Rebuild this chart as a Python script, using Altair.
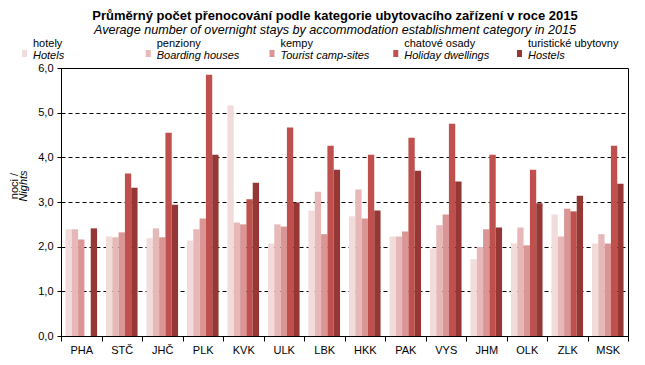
import altair as alt
import pandas as pd

regions = ["PHA", "STČ", "JHČ", "PLK", "KVK", "ULK", "LBK", "HKK", "PAK", "VYS", "JHM", "OLK", "ZLK", "MSK"]
cat_cz = ["hotely", "penziony", "kempy", "chatové osady", "turistické ubytovny"]
cat_en = ["Hotels", "Boarding houses", "Tourist camp-sites", "Holiday dwellings", "Hostels"]
colors = ["#F2DCDB", "#E6B9B8", "#D99694", "#C0504D", "#953735"]

hotely = [2.39, 2.23, 2.19, 2.14, 5.16, 2.07, 2.81, 2.68, 2.23, 1.96, 1.72, 2.07, 2.72, 2.07]
penziony = [2.39, 2.21, 2.41, 2.39, 2.54, 2.50, 3.23, 3.28, 2.23, 2.48, 1.99, 2.43, 2.23, 2.28]
kempy = [2.16, 2.32, 2.21, 2.63, 2.50, 2.45, 2.28, 2.63, 2.34, 2.72, 2.39, 2.03, 2.85, 2.07]
chatove = [None, 3.64, 4.55, 5.85, 3.06, 4.67, 4.26, 4.06, 4.44, 4.75, 4.06, 3.72, 2.79, 4.26]
turist = [2.41, 3.32, 2.94, 4.06, 3.43, 2.99, 3.72, 2.81, 3.70, 3.46, 2.43, 2.97, 3.14, 3.41]

series = [hotely, penziony, kempy, chatove, turist]
rows = []
for cat, vals in zip(cat_cz, series):
    for r, v in zip(regions, vals):
        if v is not None:
            rows.append({"region": r, "cat": cat, "value": v})
df = pd.DataFrame(rows)

W, H = 567, 268
FONT = "Liberation Sans"

bars = alt.Chart(df).mark_bar().encode(
    x=alt.X("region:N", sort=regions,
            scale=alt.Scale(domain=regions, paddingInner=0, paddingOuter=0),
            axis=alt.Axis(title=None, labelAngle=0, tickBand="extent", tickSize=5,
                          labelPadding=3, labelFontSize=11, labelColor="black",
                          domainColor="black", tickColor="black", grid=False)),
    xOffset=alt.XOffset("cat:N", sort=cat_cz,
                        scale=alt.Scale(domain=cat_cz, paddingOuter=0.705, paddingInner=0)),
    y=alt.Y("value:Q", scale=alt.Scale(domain=[0, 6], nice=False),
            axis=alt.Axis(title=None, values=[0, 1, 2, 3, 4, 5, 6], format=".1f",
                          labelExpr="replace(datum.label, '.', ',')",
                          grid=True, gridColor="black", gridDash=[4, 3], gridOpacity=1,
                          tickSize=4, labelPadding=4, labelFontSize=11, labelColor="black",
                          domainColor="black", tickColor="black")),
    color=alt.Color("cat:N", scale=alt.Scale(domain=cat_cz, range=colors), legend=None),
)

layers = [bars]

def text_layer(t, x, y, size=11, weight="normal", style="normal", align="left", angle=0):
    return alt.Chart(pd.DataFrame({"t": [t]})).mark_text(
        font=FONT, fontSize=size, fontWeight=weight, fontStyle=style,
        align=align, baseline="alphabetic" if angle == 0 else "middle",
        angle=angle, color="black",
    ).encode(text="t:N", x=alt.value(x), y=alt.value(y))

# title and subtitle
layers.append(text_layer("Průměrný počet přenocování podle kategorie ubytovacího zařízení v roce 2015",
                         274, -48, size=13, weight="bold", align="center"))
layers.append(text_layer("Average number of overnight stays by accommodation establishment category in 2015",
                         274, -34, size=12.6, style="italic", align="center"))

# legend
for i, (cz, en, col) in enumerate(zip(cat_cz, cat_en, colors)):
    left = 22 + i * 123.75 - 61
    sq = alt.Chart(pd.DataFrame({"c": [cz]})).mark_rect(color=col).encode(
        x=alt.value(left), x2=alt.value(left + 5),
        y=alt.value(-18), y2=alt.value(-11),
    )
    layers.append(sq)
    layers.append(text_layer(cz, left + 11, -21))
    layers.append(text_layer(en, left + 11, -9, style="italic"))

# y axis title
layers.append(text_layer("noci /", -46, 118, align="center", angle=270))
layers.append(text_layer("Nights", -37, 118, style="italic", align="center", angle=270))

chart = alt.layer(*layers).properties(
    width=W, height=H,
    autosize=alt.AutoSizeParams(type="none"),
    padding={"left": 53, "top": 60, "right": 9, "bottom": 20},
).configure(font=FONT).configure_view(stroke="black", strokeWidth=1)

chart.save("out.html", embed_options={"renderer": "svg", "actions": False})
